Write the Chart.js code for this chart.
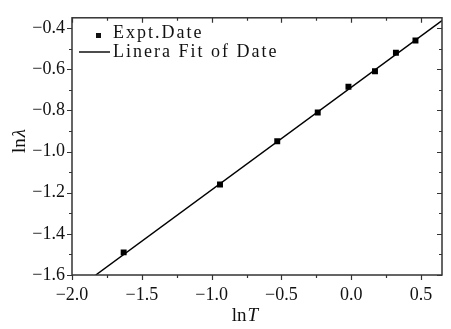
<!DOCTYPE html>
<html>
<head>
<meta charset="utf-8">
<script src="https://cdn.jsdelivr.net/npm/chart.js@4/dist/chart.umd.min.js"></script>
<style>
  html, body { margin: 0; padding: 0; background: #fff; }
  #wrap { width: 451px; height: 329px; position: relative; }
</style>
</head>
<body>
<div id="wrap"><canvas id="c" width="451" height="329"></canvas></div>
<script>
// ---- data ----
const exptLnT = [-1.63, -0.94, -0.53, -0.24, -0.02, 0.17, 0.32, 0.46];
const exptLnLambda = [-1.49, -1.16, -0.95, -0.81, -0.685, -0.61, -0.52, -0.46];
const fitLnT = [-1.83, 0.65];
const fitLnLambda = [-1.60, -0.364];
const seriesLabels = ['Expt.Date', 'Linera Fit of Date'];
const xAxisTitle = ['ln', 'T'];       // second part italic
const yAxisTitle = ['ln', '\u03BB'];  // second part italic
const xRange = [-2.0, 0.65];
const yRange = [-1.6, -0.35];
const xMajor = 0.5, xMinor = 0.25;
const yMajor = 0.2, yMinor = 0.1;

const FONT = '"Liberation Serif", "Times New Roman", serif';
const INK = '#111';
const FRAME = '#333';

function fmt(v) {
  if (Math.abs(v) < 1e-9) return '0.0';
  const s = Math.abs(v).toFixed(1);
  return v < 0 ? '\u2212' + s : s;
}

const framePlugin = {
  id: 'framePlugin',
  afterDraw(chart) {
    const ctx = chart.ctx;
    const a = chart.chartArea;
    const xs = chart.scales.x, ys = chart.scales.y;
    ctx.save();
    ctx.strokeStyle = FRAME;
    ctx.lineWidth = 1.5;
    ctx.strokeRect(a.left, a.top, a.right - a.left, a.bottom - a.top);
    ctx.lineWidth = 1.2;
    // x ticks
    const nx = Math.round((xs.max - xs.min) / xMinor);
    for (let i = 0; i <= nx; i++) {
      const v = xs.min + i * xMinor;
      if (v > xs.max + 1e-9) break;
      const major = Math.abs(v / xMajor - Math.round(v / xMajor)) < 1e-6;
      const len = major ? 5 : 3;
      const px = Math.round(xs.getPixelForValue(v)) + 0.5;
      ctx.beginPath();
      ctx.moveTo(px, a.bottom); ctx.lineTo(px, a.bottom + len);
      ctx.moveTo(px, a.top); ctx.lineTo(px, a.top + len);
      ctx.stroke();
    }
    // y ticks
    const ny = Math.round((ys.max - ys.min) / yMinor);
    for (let i = 0; i <= ny; i++) {
      const v = ys.min + i * yMinor;
      if (v > ys.max + 1e-9) break;
      const major = Math.abs(v / yMajor - Math.round(v / yMajor)) < 1e-6;
      const len = major ? 5 : 3;
      const py = Math.round(ys.getPixelForValue(v)) + 0.5;
      ctx.beginPath();
      ctx.moveTo(a.left - len, py); ctx.lineTo(a.left, py);
      ctx.moveTo(a.right - len, py); ctx.lineTo(a.right, py);
      ctx.stroke();
    }

    // axis titles (mixed upright / italic)
    ctx.fillStyle = INK;
    ctx.textBaseline = 'alphabetic';
    const fs = 19;
    function mixed(parts, cx, cy) {
      ctx.font = fs + 'px ' + FONT;
      const w0 = ctx.measureText(parts[0]).width + 1;
      ctx.font = 'italic ' + fs + 'px ' + FONT;
      const w1 = ctx.measureText(parts[1]).width;
      const x0 = cx - (w0 + w1) / 2;
      ctx.font = fs + 'px ' + FONT;
      ctx.textAlign = 'left';
      ctx.fillText(parts[0], x0, cy);
      ctx.font = 'italic ' + fs + 'px ' + FONT;
      ctx.fillText(parts[1], x0 + w0, cy);
    }
    mixed(xAxisTitle, 245, 321);
    ctx.save();
    ctx.translate(25, 141);
    ctx.rotate(-Math.PI / 2);
    mixed(yAxisTitle, 0, 0);
    ctx.restore();

    // legend
    ctx.font = '18px ' + FONT;
    try { ctx.letterSpacing = '2px'; } catch (e) {}
    ctx.textAlign = 'left';
    ctx.fillStyle = INK;
    ctx.fillRect(96, 33, 5, 5);
    ctx.fillText(chart.data.datasets[0].label, 113, 37.5);
    ctx.strokeStyle = INK;
    ctx.lineWidth = 1.5;
    ctx.beginPath();
    ctx.moveTo(79, 52); ctx.lineTo(110, 52);
    ctx.stroke();
    ctx.fillText(chart.data.datasets[1].label, 113, 56.5);
    try { ctx.letterSpacing = '0px'; } catch (e) {}
    ctx.restore();
  }
};

new Chart(document.getElementById('c'), {
  type: 'scatter',
  data: {
    datasets: [
      {
        label: seriesLabels[0],
        data: exptLnT.map((x, i) => ({ x, y: exptLnLambda[i] })),
        pointStyle: 'rect',
        pointRadius: 4.2,
        backgroundColor: '#000',
        borderColor: '#000',
        borderWidth: 0,
        showLine: false,
        order: 1
      },
      {
        label: seriesLabels[1],
        data: fitLnT.map((x, i) => ({ x, y: fitLnLambda[i] })),
        showLine: true,
        pointRadius: 0,
        borderColor: '#000',
        borderWidth: 1.5,
        fill: false,
        order: 2
      }
    ]
  },
  options: {
    responsive: false,
    animation: false,
    devicePixelRatio: 1,
    layout: { padding: { top: 5, right: 9, left: 0, bottom: 0 } },
    plugins: { legend: { display: false }, tooltip: { enabled: false }, title: { display: false } },
    scales: {
      x: {
        type: 'linear',
        min: xRange[0], max: xRange[1],
        afterFit(s) { s.height = 54; },
        border: { display: false },
        grid: { display: true, drawOnChartArea: false, drawTicks: false, color: 'rgba(0,0,0,0)' },
        ticks: {
          stepSize: xMajor, includeBounds: false, autoSkip: false, maxRotation: 0,
          padding: 9, color: INK, font: { family: FONT, size: 18 },
          callback: (v) => fmt(v)
        }
      },
      y: {
        type: 'linear',
        min: yRange[0], max: yRange[1],
        afterFit(s) { s.width = 72; },
        border: { display: false },
        grid: { display: true, drawOnChartArea: false, drawTicks: false, color: 'rgba(0,0,0,0)' },
        ticks: {
          stepSize: yMajor, includeBounds: false, autoSkip: false,
          padding: 7, color: INK, font: { family: FONT, size: 18 },
          callback: (v) => fmt(v)
        }
      }
    }
  },
  plugins: [framePlugin]
});
</script>
</body>
</html>
